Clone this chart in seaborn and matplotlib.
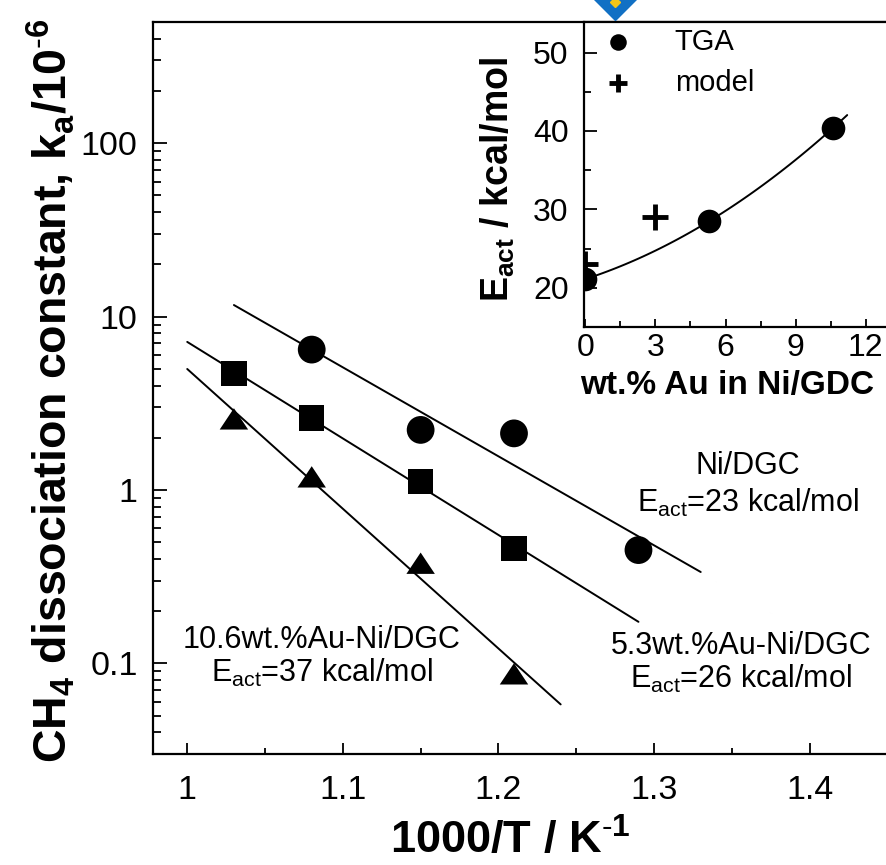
import numpy as np
import pandas as pd
import matplotlib
matplotlib.use("Agg")
import matplotlib.pyplot as plt
from matplotlib.lines import Line2D
from matplotlib.ticker import MultipleLocator, FixedLocator, LogLocator, NullFormatter, FuncFormatter
import seaborn as sns

# main panel: CH4 dissociation constant k_a (x1e-6) vs 1000/T
inv_T_ni = [1.08, 1.15, 1.21, 1.29]
k_ni = [6.45, 2.22, 2.12, 0.45]
inv_T_au = [1.03, 1.08, 1.15, 1.21]
k_au53 = [4.7, 2.6, 1.12, 0.46]
k_au106 = [2.57, 1.19, 0.378, 0.087]

samples = ["Ni/DGC", "5.3wt.%Au-Ni/DGC", "10.6wt.%Au-Ni/DGC"]
# x extent of the Arrhenius fit lines
fit_from = [1.03, 1.0, 1.0]
fit_to = [1.33, 1.29, 1.24]

# inset: activation energy vs Au loading
au_tga = [0, 5.3, 10.6]
ea_tga = [21.1, 28.5, 40.4]
au_model = [0, 3]
ea_model = [23.0, 29.0]
au_fit_to = 11.2

sns.set_style("ticks")
plt.rcParams["font.family"] = ["Liberation Sans", "DejaVu Sans"]
plt.rcParams["mathtext.fontset"] = "custom"
plt.rcParams["mathtext.rm"] = "Liberation Sans"
plt.rcParams["mathtext.bf"] = "Liberation Sans:bold"
plt.rcParams["mathtext.it"] = "Liberation Sans:italic"
plt.rcParams["axes.linewidth"] = 1.6
for key in ["text.color", "axes.labelcolor", "xtick.color", "ytick.color", "axes.edgecolor"]:
    plt.rcParams[key] = "black"

fig = plt.figure(figsize=(8.86, 8.65), dpi=100)
W, H = 886, 865

def px_axes(left, top, right, bottom):
    return [left / W, 1 - bottom / H, (right - left) / W, (bottom - top) / H]

ax = fig.add_axes(px_axes(153, 22, 903, 754))

df_main = pd.DataFrame({
    "inv_T": inv_T_ni + inv_T_au + inv_T_au,
    "k": k_ni + k_au53 + k_au106,
    "sample": [samples[0]] * 4 + [samples[1]] * 4 + [samples[2]] * 4,
})
tri = [(-1, -0.75), (1, -0.75), (0, 0.75)]
sns.scatterplot(data=df_main, x="inv_T", y="k", style="sample", size="sample",
                markers={samples[0]: "o", samples[1]: "s", samples[2]: tri},
                sizes={samples[0]: 400, samples[1]: 330, samples[2]: 420},
                color="black", linewidth=0, legend=False, ax=ax, zorder=3)

# Arrhenius fits (straight in log space)
for name, a, b in zip(samples, fit_from, fit_to):
    sub = df_main[df_main["sample"] == name]
    p = np.polyfit(sub["inv_T"], np.log10(sub["k"]), 1)
    xs = np.linspace(a, b, 50)
    sns.lineplot(x=xs, y=10 ** np.polyval(p, xs), color="black", lw=1.4, ax=ax)

ax.set_yscale("log")
ax.set_xlim(0.978, 1.46)
ax.set_ylim(0.03, 500)
ax.xaxis.set_major_locator(MultipleLocator(0.1))
ax.xaxis.set_minor_locator(MultipleLocator(0.05))
ax.xaxis.set_major_formatter(FuncFormatter(lambda v, _: f"{v:g}"))
ax.yaxis.set_major_locator(FixedLocator([0.1, 1, 10, 100]))
ax.yaxis.set_minor_locator(LogLocator(subs=np.arange(2, 10)))
ax.yaxis.set_major_formatter(FuncFormatter(lambda v, _: f"{v:g}"))
ax.yaxis.set_minor_formatter(NullFormatter())
ax.tick_params(which="both", direction="in", top=False, right=False, width=1.3, labelsize=24.5)
ax.tick_params(axis="x", which="major", length=8, pad=15)
ax.tick_params(axis="x", which="minor", length=4)
ax.tick_params(axis="y", which="major", length=10, pad=11)
ax.tick_params(axis="y", which="minor", length=6)

ax.set_xlabel("1000/T / K$^{\\text{-}\\mathbf{1}}$", fontsize=32.5, fontweight="bold")
ax.xaxis.set_label_coords(0.476, -0.088)
ax.set_ylabel("CH$_\\mathbf{4}$ dissociation constant, k$_\\mathbf{a}$/10$^{\\text{-}\\mathbf{6}}$",
              fontsize=33.5, fontweight="bold", va="center")
ax.yaxis.set_label_coords(-0.137, 0.496)

def to_ax(xp, yp):
    return ((xp - 153) / 750, (754 - yp) / 732)

notes = [
    (748, 485, "Ni/DGC\nE$_{\\mathrm{act}}$=23 kcal/mol", 1.25),
    (741, 663, "5.3wt.%Au-Ni/DGC\nE$_{\\mathrm{act}}$=26 kcal/mol", 1.08),
    (322, 657, "10.6wt.%Au-Ni/DGC\nE$_{\\mathrm{act}}$=37 kcal/mol", 1.1),
]
for xp, yp, txt, ls in notes:
    ax.text(*to_ax(xp, yp), txt, transform=ax.transAxes, ha="center", va="center",
            fontsize=22, linespacing=ls)

# inset
ins = fig.add_axes(px_axes(584, 22, 901, 327))
sns.scatterplot(x=au_tga, y=ea_tga, marker="o", s=290, color="black", linewidth=0,
                ax=ins, label="TGA", zorder=3)
sns.scatterplot(x=au_model, y=ea_model, marker="+", s=330, color="black", linewidth=3.5,
                ax=ins, label="model", zorder=3)
q = np.polyfit(au_tga, ea_tga, 2)
xq = np.linspace(0, au_fit_to, 60)
sns.lineplot(x=xq, y=np.polyval(q, xq), color="black", lw=1.4, ax=ins)
ins.set_xlim(-0.05, 13.5)
ins.set_ylim(15, 53.9)
ins.xaxis.set_major_locator(MultipleLocator(3))
ins.xaxis.set_minor_locator(MultipleLocator(1.5))
ins.yaxis.set_major_locator(MultipleLocator(10))
ins.yaxis.set_minor_locator(MultipleLocator(5))
ins.tick_params(which="both", direction="in", top=False, right=False, width=1.3, labelsize=23)
ins.tick_params(axis="x", which="major", length=6, pad=4)
ins.tick_params(axis="x", which="minor", length=4)
ins.tick_params(axis="y", which="major", length=9, pad=11)
ins.tick_params(axis="y", which="minor", length=5)
ins.set_xlabel("wt.% Au in Ni/GDC", fontsize=24, fontweight="bold")
ins.xaxis.set_label_coords(0.45, -0.14)
ins.set_ylabel("E$_\\mathbf{act}$ / kcal/mol", fontsize=27, fontweight="bold", va="center")
ins.yaxis.set_label_coords(-0.271, 0.485)
ins.legend(loc="upper left", bbox_to_anchor=(0.015, 1.02), frameon=False, fontsize=21,
           markerscale=0.7, handlelength=1.2, handletextpad=1.35, labelspacing=0.45,
           borderaxespad=0)

# blue corner badge from the source image
fig.add_artist(Line2D([615 / W], [1 + 2 / H], marker="D", markersize=22,
                      color="#1170c4", transform=fig.transFigure))
fig.add_artist(Line2D([615 / W], [1 - 2 / H], marker="D", markersize=5,
                      color="#f5c518", transform=fig.transFigure))

fig.savefig("out.png", dpi=100)
